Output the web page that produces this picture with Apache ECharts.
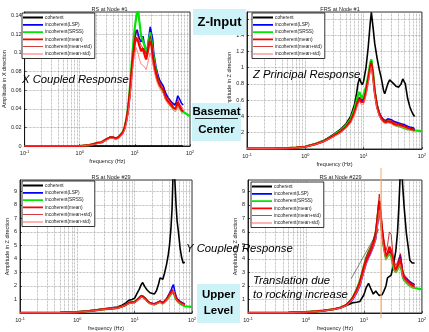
<!DOCTYPE html>
<html>
<head>
<meta charset="utf-8">
<script src="https://cdn.jsdelivr.net/npm/echarts@6/dist/echarts.min.js"></script>
<style>
  html, body { margin: 0; padding: 0; background: #fff; }
  #chart { width: 429px; height: 332px; }
</style>
</head>
<body>
<div id="chart"></div>
<script>
// ---- data ----
var NAMES = ['coherent', 'incoherent(LSP)', 'incoherent(SRSS)', 'incoherent(mean)', 'incoherent(mean+std)', 'incoherent(mean-std)'];
var X_MINOR = [0.2, 0.3, 0.4, 0.5, 0.6, 0.7, 0.8, 0.9, 2, 3, 4, 5, 6, 7, 8, 9, 20, 30, 40, 50, 60, 70, 80, 90];

// RS at Node #1 (X direction)
var P1_FREQ = [0.1, 0.5, 1, 1.5, 2, 2.5, 3, 3.5, 4, 4.5, 5, 6, 6.5, 7, 7.5, 8, 8.5, 9, 9.5, 10, 10.5, 11, 11.5, 12, 13, 14, 15, 16, 17, 18, 19, 20, 21, 22, 24, 26, 28, 30, 33, 36, 40, 45, 50, 55, 60, 65, 70, 75, 100];
var P1_COH = [0,0,0,0,0,0,0,0,0,0, 0,0,0,0,0,0,0,0,0,0, 0,0,0,0,0,0,0,0,0,0, 0,0,0,0,0,0,0,0,0,0, 0,0,0,0,0,0,0,0, null];
var P1_LSP = [0,0,0,0.001,0.003,0.004,0.007,0.009,0.009,0.008,
  0.009,0.014,0.019,0.027,0.037,0.052,0.07,0.09,0.106,0.116,
  0.122,0.125,0.12,0.116,0.112,0.118,0.108,0.1,0.107,0.118,
  0.128,0.13,0.115,0.1,0.086,0.077,0.071,0.068,0.064,0.057,
  0.052,0.048,0.045,0.045,0.054,0.05,0.046,0.044,null];
var P1_SRSS = [0,0,0,0.001,0.003,0.004,0.007,0.009,0.009,0.008,
  0.009,0.015,0.02,0.029,0.041,0.058,0.078,0.098,0.115,0.128,
  0.137,0.143,0.146,0.135,0.118,0.12,0.108,0.1,0.104,0.114,
  0.122,0.12,0.105,0.094,0.082,0.072,0.066,0.063,0.058,0.052,
  0.048,0.043,0.041,0.039,0.044,0.041,0.038,0.037,0.032];
var P1_MEAN = [0,0,0,0.001,0.003,0.004,0.007,0.009,0.009,0.008,
  0.009,0.014,0.019,0.027,0.038,0.053,0.07,0.088,0.1,0.11,
  0.117,0.115,0.112,0.108,0.102,0.105,0.098,0.093,0.1,0.108,
  0.113,0.108,0.097,0.088,0.078,0.07,0.066,0.063,0.06,0.052,
  0.048,0.045,0.041,0.04,0.047,0.042,0.039,0.037,null];
var P1_MEANP = [0,0,0,0.001,0.003,0.004,0.007,0.01,0.01,0.009,
  0.01,0.015,0.021,0.03,0.042,0.058,0.077,0.095,0.108,0.118,
  0.124,0.121,0.117,0.113,0.108,0.11,0.103,0.098,0.104,0.113,
  0.118,0.113,0.102,0.093,0.082,0.074,0.07,0.066,0.063,0.055,
  0.051,0.048,0.044,0.043,0.05,0.045,0.042,0.04,null];
var P1_MEANM = [0,0,0,0.001,0.002,0.004,0.006,0.008,0.008,0.007,
  0.008,0.013,0.017,0.024,0.034,0.048,0.063,0.08,0.092,0.1,
  0.106,0.104,0.099,0.094,0.088,0.09,0.085,0.082,0.088,0.095,
  0.1,0.098,0.09,0.082,0.073,0.066,0.062,0.06,0.056,0.049,
  0.045,0.042,0.038,0.037,0.043,0.039,0.036,0.034,null];

// FRS at Node #1 (Z direction)
var P2_FREQ = [0.1, 0.3, 0.5, 0.7, 1, 1.5, 2, 2.5, 3, 3.5, 4, 5, 6, 7, 7.5, 8, 8.5, 9, 9.5, 10, 11, 12, 13, 13.6, 14.5, 15.5, 17, 18.5, 20, 22, 23, 24, 26, 28, 30, 33, 36, 40, 44, 47, 49, 52, 57, 62, 66, 70, 75, 100];
var P2_COH = [0.005,0.007,0.01,0.018,0.03,0.065,0.1,0.14,0.175,0.21,
  0.24,0.31,0.4,0.55,0.66,0.8,0.87,0.82,0.79,0.83,
  1.0,1.25,1.55,1.68,1.5,1.3,1.12,0.98,0.88,0.72,
  0.68,0.72,0.8,0.85,0.85,0.8,0.77,0.76,0.8,0.86,
  0.88,0.8,0.62,0.52,0.47,0.43,0.4,null];
var P2_LSP = [0.005,0.007,0.01,0.017,0.028,0.06,0.09,0.125,0.155,0.185,
  0.21,0.27,0.35,0.46,0.53,0.6,0.63,0.6,0.58,0.6,
  0.72,0.87,1.02,1.06,0.93,0.72,0.55,0.45,0.4,0.36,
  0.35,0.35,0.37,0.38,0.36,0.34,0.33,0.32,0.31,0.3,
  0.3,0.29,0.28,0.27,0.26,0.26,0.25,null];
var P2_SRSS = [0.005,0.007,0.01,0.018,0.03,0.063,0.095,0.13,0.165,0.2,
  0.225,0.29,0.37,0.5,0.58,0.66,0.7,0.65,0.62,0.64,
  0.76,0.9,1.06,1.1,0.95,0.72,0.53,0.43,0.37,0.34,
  0.33,0.33,0.34,0.34,0.32,0.3,0.29,0.28,0.27,0.26,
  0.26,0.25,0.24,0.24,0.23,0.23,0.22,0.22];
var P2_MEAN = [0.005,0.007,0.01,0.017,0.028,0.06,0.09,0.125,0.155,0.185,
  0.21,0.27,0.34,0.45,0.52,0.58,0.61,0.58,0.56,0.58,
  0.7,0.85,1.0,1.05,0.9,0.7,0.52,0.43,0.38,0.34,
  0.33,0.33,0.34,0.35,0.33,0.31,0.3,0.3,0.29,0.28,
  0.28,0.27,0.26,0.25,0.24,0.24,0.23,null];
var P2_MEANP = [0.005,0.007,0.01,0.018,0.029,0.062,0.094,0.13,0.162,0.194,
  0.22,0.28,0.36,0.47,0.55,0.61,0.64,0.61,0.59,0.61,
  0.73,0.89,1.04,1.08,0.94,0.73,0.55,0.45,0.4,0.36,
  0.35,0.35,0.36,0.37,0.35,0.33,0.32,0.31,0.3,0.29,
  0.29,0.28,0.27,0.26,0.25,0.25,0.24,null];
var P2_MEANM = [0.005,0.007,0.01,0.016,0.026,0.057,0.086,0.12,0.148,0.176,
  0.2,0.26,0.32,0.42,0.49,0.55,0.58,0.55,0.53,0.55,
  0.66,0.81,0.96,1.01,0.86,0.67,0.49,0.41,0.36,0.32,
  0.31,0.31,0.32,0.33,0.31,0.29,0.28,0.28,0.27,0.26,
  0.26,0.25,0.24,0.23,0.22,0.22,0.21,null];

// RS at Node #29
var P3_FREQ = [0.1, 0.5, 1, 1.5, 2, 2.5, 3, 4, 5, 6, 7, 8, 9, 10, 11, 12, 13, 13.8, 15, 16.5, 18.5, 20, 22, 24, 26, 27.7, 29, 31, 33, 36, 38.5, 40.5, 43, 45, 47.5, 50, 52.7, 55, 58, 62, 66, 70, 75, 100];
var P3_COH = [0.02,0.03,0.08,0.15,0.22,0.28,0.32,0.38,0.45,0.58,
  0.75,0.95,1.0,1.1,1.45,1.75,2.1,2.25,1.95,1.7,
  1.5,1.45,1.4,1.65,2.1,2.6,2.6,2.5,2.9,3.6,
  4.3,5.0,6.3,7.8,11.5,10.0,8.0,6.8,6.0,4.8,
  4.1,3.7,3.75,null];
var P3_LSP = [0.02,0.03,0.07,0.13,0.19,0.24,0.28,0.33,0.38,0.48,
  0.6,0.74,0.77,0.8,0.93,1.08,1.22,1.27,1.1,0.9,
  0.73,0.68,0.68,0.75,0.83,0.88,0.82,0.75,0.85,1.05,
  1.28,1.45,1.65,1.9,2.1,1.6,1.25,1.05,0.92,0.86,
  0.8,0.72,0.66,null];
var P3_SRSS = [0.02,0.03,0.07,0.13,0.19,0.24,0.28,0.33,0.38,0.48,
  0.6,0.76,0.8,0.82,0.98,1.13,1.28,1.33,1.12,0.9,
  0.72,0.65,0.63,0.7,0.77,0.82,0.77,0.7,0.77,0.95,
  1.12,1.25,1.38,1.5,1.58,1.25,1.02,0.88,0.78,0.7,
  0.62,0.55,0.5,0.45];
var P3_MEAN = [0.02,0.03,0.07,0.13,0.19,0.24,0.28,0.33,0.38,0.48,
  0.6,0.75,0.78,0.8,0.95,1.1,1.25,1.3,1.1,0.9,
  0.72,0.66,0.65,0.72,0.8,0.85,0.8,0.72,0.8,1.0,
  1.2,1.35,1.5,1.65,1.75,1.35,1.1,0.95,0.85,0.78,
  0.72,0.65,0.6,null];
var P3_MEANP = [0.02,0.03,0.07,0.13,0.2,0.25,0.29,0.34,0.4,0.5,
  0.63,0.79,0.82,0.84,1.0,1.16,1.31,1.36,1.16,0.95,
  0.76,0.7,0.69,0.76,0.85,0.9,0.85,0.77,0.85,1.06,
  1.28,1.44,1.6,1.76,1.87,1.44,1.17,1.01,0.9,0.83,
  0.77,0.69,0.64,null];
var P3_MEANM = [0.02,0.03,0.07,0.12,0.18,0.23,0.27,0.32,0.36,0.46,
  0.57,0.71,0.74,0.76,0.9,1.04,1.19,1.24,1.04,0.85,
  0.68,0.62,0.61,0.68,0.75,0.8,0.75,0.67,0.75,0.94,
  1.12,1.26,1.4,1.54,1.63,1.26,1.03,0.89,0.8,0.73,
  0.67,0.61,0.56,null];

// RS at Node #229
var P4_FREQ = [0.1, 0.5, 1, 1.5, 2, 3, 4, 5, 6, 6.5, 7.5, 8.5, 10, 11, 12, 13, 14.5, 16, 17.2, 18.4, 19.5, 20.5, 22, 24, 25.5, 27.5, 29.5, 31.5, 33, 35.5, 38, 40, 42.5, 44, 46.5, 49.5, 54, 58, 62, 68, 75, 100];
var P4_COH = [0.02,0.03,0.07,0.12,0.17,0.28,0.4,0.55,0.7,0.77,
  0.8,0.85,1.35,1.9,2.2,1.85,1.4,1.62,1.45,1.3,
  1.25,1.35,1.6,2.0,2.6,2.5,2.8,3.4,3.8,4.6,
  6.0,7.8,10.5,11.5,9.5,7.8,5.9,4.9,3.9,3.7,
  3.7,null];
var P4_LSP = [0.02,0.03,0.07,0.12,0.17,0.28,0.4,0.58,0.88,1.05,
  1.5,2.0,3.1,3.7,4.1,4.4,4.9,5.5,6.6,7.6,
  6.8,5.9,4.9,4.1,4.2,4.6,4.3,3.8,3.4,3.2,
  3.4,3.9,4.3,3.8,3.0,2.7,2.55,2.4,2.3,2.2,
  2.1,null];
var P4_SRSS = [0.02,0.03,0.07,0.12,0.17,0.28,0.4,0.6,0.97,1.2,
  1.75,2.35,3.5,4.1,4.5,4.8,5.2,5.9,7.1,8.2,
  7.0,6.0,4.9,4.0,4.1,4.4,4.2,3.6,3.2,3.0,
  3.1,3.4,3.6,3.3,2.7,2.4,2.25,2.1,2.0,1.9,
  1.85,1.75];
var P4_MEAN = [0.02,0.03,0.07,0.12,0.17,0.28,0.4,0.6,0.95,1.15,
  1.65,2.2,3.3,3.9,4.3,4.6,5.1,5.8,7.0,8.3,
  7.2,6.2,5.1,4.2,4.4,4.9,4.6,3.9,3.5,3.2,
  3.3,3.7,4.0,3.6,2.9,2.6,2.45,2.3,2.2,2.05,
  1.95,null];
var P4_MEANP = [0.02,0.03,0.07,0.12,0.18,0.29,0.42,0.64,1.02,1.25,
  1.8,2.4,3.6,4.2,4.6,4.9,5.4,6.2,7.5,8.8,
  7.7,6.6,5.5,4.6,5.0,6.0,5.8,4.5,3.9,3.5,
  3.6,4.0,4.4,3.9,3.2,2.85,2.65,2.5,2.35,2.2,
  2.1,null];
var P4_MEANM = [0.02,0.03,0.07,0.11,0.16,0.27,0.38,0.56,0.88,1.05,
  1.5,2.0,3.0,3.6,4.0,4.3,4.8,5.4,6.5,7.6,
  6.6,5.7,4.7,3.9,4.0,4.4,4.2,3.6,3.2,2.95,
  3.0,3.4,3.6,3.3,2.65,2.4,2.25,2.1,2.0,1.9,
  1.8,null];

// ---- styles / layout ----
var FONT = 'Liberation Sans, Arial, sans-serif';
var COLORS = ['#000000', '#0000ff', '#00e600', '#ff0000', '#c80000', '#ff6a6a'];
var WIDTHS = [1.6, 1.6, 2.2, 2.2, 0.8, 0.8];
// legend swatches: a line inside a fixed 20x5 box (tiny corner dots keep the box size)
var ICON_THICK = 'path://M0,0H0.05V0.05H0Z M0,1.6H20V3.4H0Z M19.95,4.95H20V5H19.95Z';
var ICON_THIN = 'path://M0,0H0.05V0.05H0Z M0,2.1H20V2.9H0Z M19.95,4.95H20V5H19.95Z';

var panels = [
  { title: 'RS at Node #1', yname: 'Amplitude in X direction', freq: P1_FREQ,
    vals: [P1_COH, P1_LSP, P1_SRSS, P1_MEAN, P1_MEANP, P1_MEANM],
    grid: { left: 19, top: 12, width: 171, height: 134 }, ymax: 0.144, step: 0.02,
    showMin: true, nameGap: 15, legend: { left: 22, top: 13 } },
  { title: 'FRS at Node #1', yname: 'Amplitude in Z direction', freq: P2_FREQ,
    vals: [P2_COH, P2_LSP, P2_SRSS, P2_MEAN, P2_MEANP, P2_MEANM],
    grid: { left: 247, top: 12, width: 176, height: 137 }, ymax: 1.683, step: 0.2,
    showMin: false, nameGap: 9, legend: { left: 252, top: 13 } },
  { title: 'RS at Node #29', yname: 'Amplitude in Z direction', freq: P3_FREQ,
    vals: [P3_COH, P3_LSP, P3_SRSS, P3_MEAN, P3_MEANP, P3_MEANM],
    grid: { left: 20, top: 180, width: 172, height: 135 }, ymax: 9.84, step: 1,
    showMin: false, nameGap: 9, legend: { left: 22, top: 181 } },
  { title: 'RS at Node #229', yname: 'Amplitude in Z direction', freq: P4_FREQ,
    vals: [P4_COH, P4_LSP, P4_SRSS, P4_MEAN, P4_MEANP, P4_MEANM],
    grid: { left: 248, top: 180, width: 175, height: 135 }, ymax: 9.84, step: 1,
    showMin: false, nameGap: 6, legend: { left: 251, top: 182 } }
];

var grids = [], xAxes = [], yAxes = [], titles = [], legends = [], series = [];

panels.forEach(function (p, i) {
  var g = p.grid;
  grids.push({ left: g.left, top: g.top, width: g.width, height: g.height,
    show: true, borderColor: '#000', borderWidth: 0.8, backgroundColor: '#fff' });

  titles.push({ text: p.title, left: g.left + g.width / 2, top: g.top - 11, textAlign: 'center',
    textStyle: { fontSize: 5.5, fontWeight: 'normal', color: '#222', fontFamily: FONT } });

  xAxes.push({
    type: 'log', logBase: 10, min: 0.1, max: 100, splitNumber: 3, gridIndex: i,
    name: 'frequency (Hz)', nameLocation: 'middle', nameGap: 12,
    nameTextStyle: { fontSize: 5.5, color: '#222', fontFamily: FONT },
    axisLine: { lineStyle: { color: '#000', width: 0.8 } },
    axisTick: { inside: true, length: 2, lineStyle: { color: '#000', width: 0.6 } },
    axisLabel: {
      margin: 4, color: '#222',
      formatter: function (v) { return '{b|10}{s|' + Math.round(Math.log10(v)) + '}'; },
      rich: {
        b: { fontSize: 5.5, fontFamily: FONT, color: '#222' },
        s: { fontSize: 3.8, fontFamily: FONT, color: '#222', verticalAlign: 'top', padding: [0, 0, 3, 0] }
      }
    },
    splitLine: { show: true, lineStyle: { type: 'dotted', color: '#8c8c8c', width: 0.7 } }
  });

  yAxes.push({
    type: 'value', min: 0, max: p.ymax, interval: p.step, gridIndex: i,
    name: p.yname, nameLocation: 'middle', nameGap: p.nameGap,
    nameTextStyle: { fontSize: 5.5, color: '#222', fontFamily: FONT },
    axisLine: { show: true, lineStyle: { color: '#000', width: 0.8 } },
    axisTick: { show: true, inside: true, length: 2, lineStyle: { color: '#000', width: 0.6 } },
    axisLabel: { fontSize: 5.5, color: '#222', margin: 3, fontFamily: FONT,
      showMaxLabel: false, showMinLabel: p.showMin,
      formatter: function (v) { return String(+v.toFixed(3)); } },
    splitLine: { show: true, lineStyle: { type: 'dotted', color: '#8c8c8c', width: 0.7 } }
  });

  legends.push({
    orient: 'vertical', left: p.legend.left, top: p.legend.top,
    itemWidth: 20, itemHeight: 5, itemGap: 2.3, padding: [2, 3, 2, 1],
    backgroundColor: '#fff', borderColor: '#000', borderWidth: 0.8,
    selectedMode: false,
    data: NAMES.map(function (n, k) {
      return { name: n, icon: k < 4 ? ICON_THICK : ICON_THIN, itemStyle: { color: COLORS[k] } };
    }),
    textStyle: { fontSize: 4.8, color: '#222', fontFamily: FONT, padding: [0, 0, 0, -3] }
  });

  // minor log grid lines (2..9 per decade)
  series.push({
    type: 'line', xAxisIndex: i, yAxisIndex: i, data: [[0.1, 0]], symbol: 'none', z: 1,
    lineStyle: { opacity: 0 }, silent: true,
    markLine: { silent: true, symbol: ['none', 'none'], label: { show: false }, z: 1,
      lineStyle: { type: 'dotted', color: '#8c8c8c', width: 0.7 },
      data: X_MINOR.map(function (v) { return { xAxis: v }; }) }
  });

  p.vals.forEach(function (vals, k) {
    series.push({
      name: NAMES[k], type: 'line', xAxisIndex: i, yAxisIndex: i,
      symbol: 'none', z: 3 + k, clip: true,
      lineStyle: { color: COLORS[k], width: WIDTHS[k] },
      itemStyle: { color: COLORS[k] },
      data: p.freq.map(function (f, j) { return [f, vals[j]]; })
                  .filter(function (d) { return d[1] !== null; })
    });
  });
});

// slide annotations on top
var box = '#cdf3f8';
function txt(s, x, y, font, align) {
  return { type: 'text', z: 100, style: { text: s, x: x, y: y, font: font, fill: '#000',
    align: align || 'left', verticalAlign: 'middle', textAlign: align || 'left', textVerticalAlign: 'middle' } };
}
var ital = 'italic 11.3px ' + FONT;
var bold = 'bold 11.5px ' + FONT;
var graphics = [
  { type: 'rect', z: 99, shape: { x: 193, y: 9, width: 53, height: 26 }, style: { fill: box } },
  txt('Z-Input', 219.5, 22, 'bold 13px ' + FONT, 'center'),
  { type: 'rect', z: 99, shape: { x: 192, y: 103, width: 49, height: 38 }, style: { fill: box } },
  txt('Basemat', 216.5, 112, bold, 'center'),
  { type: 'line', z: 100, shape: { x1: 195, y1: 118.5, x2: 238, y2: 118.5 }, style: { stroke: '#000', lineWidth: 0.8 } },
  txt('Center', 216.5, 130, bold, 'center'),
  { type: 'rect', z: 99, shape: { x: 197, y: 284, width: 43, height: 39 }, style: { fill: box } },
  txt('Upper', 218.5, 295, bold, 'center'),
  txt('Level', 218.5, 311, bold, 'center'),
  txt('X Coupled Response', 22, 80, ital),
  txt('Z Principal Response', 253, 75, ital),
  txt('Y Coupled Response', 186, 249, ital),
  txt('Translation due', 253, 281, ital),
  txt('to rocking increase', 253, 294.5, ital),
  { type: 'line', z: 100, shape: { x1: 351, y1: 279, x2: 379, y2: 229 }, style: { stroke: '#333', lineWidth: 0.6 } },
  { type: 'line', z: 100, shape: { x1: 381, y1: 168, x2: 381, y2: 318 }, style: { stroke: '#f2a86a', lineWidth: 1 } }
];

var chart = echarts.init(document.getElementById('chart'), null, { renderer: 'canvas' });
chart.setOption({
  backgroundColor: '#fff',
  animation: false,
  textStyle: { fontFamily: FONT },
  title: titles,
  legend: legends,
  grid: grids,
  xAxis: xAxes,
  yAxis: yAxes,
  series: series,
  graphic: graphics
});
</script>
</body>
</html>
